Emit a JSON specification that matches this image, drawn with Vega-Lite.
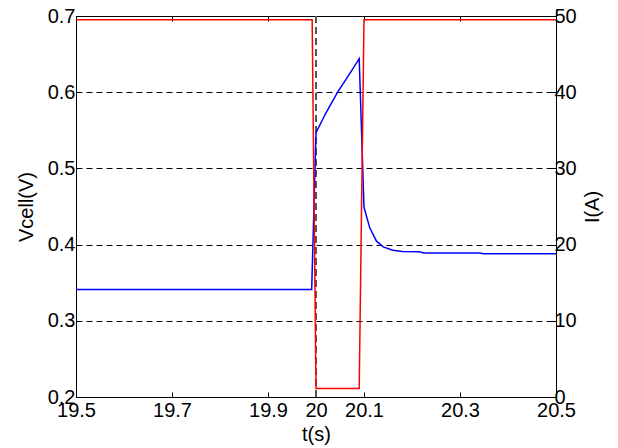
{
  "$schema": "https://vega.github.io/schema/vega-lite/v6.json",
  "width": 480,
  "height": 381,
  "autosize": {"type": "none"},
  "padding": {"left": 76, "top": 16, "right": 62, "bottom": 51},
  "background": "white",
  "config": {
    "view": {"stroke": "black", "strokeWidth": 1},
    "font": "Liberation Sans",
    "axis": {
      "labelFont": "Liberation Sans",
      "titleFont": "Liberation Sans",
      "labelFontSize": 20,
      "titleFontSize": 20,
      "titleFontWeight": "normal",
      "labelColor": "black",
      "titleColor": "black",
      "domainColor": "black",
      "tickColor": "black",
      "labelFlush": false,
      "labelOverlap": false
    }
  },
  "datasets": {
    "voltage": [
      {"t": 19.5, "V": 0.341},
      {"t": 19.991, "V": 0.341},
      {"t": 20.0, "V": 0.547},
      {"t": 20.02, "V": 0.572},
      {"t": 20.045, "V": 0.600},
      {"t": 20.07, "V": 0.624},
      {"t": 20.09, "V": 0.644},
      {"t": 20.1, "V": 0.449},
      {"t": 20.112, "V": 0.422},
      {"t": 20.126, "V": 0.4045},
      {"t": 20.14, "V": 0.397},
      {"t": 20.16, "V": 0.3925},
      {"t": 20.18, "V": 0.391},
      {"t": 20.215, "V": 0.3905},
      {"t": 20.225, "V": 0.389},
      {"t": 20.34, "V": 0.389},
      {"t": 20.35, "V": 0.388},
      {"t": 20.5, "V": 0.388}
    ],
    "current": [
      {"t": 19.5, "I": 49.5},
      {"t": 19.992, "I": 49.5},
      {"t": 20.0, "I": 1.1},
      {"t": 20.09, "I": 1.1},
      {"t": 20.1, "I": 49.5},
      {"t": 20.5, "I": 49.5}
    ],
    "marker": [{"t": 20}]
  },
  "layer": [
    {
      "data": {"name": "marker"},
      "mark": {"type": "rule", "color": "#555555", "strokeWidth": 2, "strokeDash": [7, 4]},
      "encoding": {
        "x": {"field": "t", "type": "quantitative", "scale": {"domain": [19.5, 20.5], "nice": false, "zero": false}, "axis": null}
      }
    },
    {
      "data": {"name": "voltage"},
      "mark": {"type": "line", "color": "#0000ff", "strokeWidth": 1.5},
      "encoding": {
        "x": {
          "field": "t", "type": "quantitative",
          "scale": {"domain": [19.5, 20.5], "nice": false, "zero": false},
          "axis": {
            "orient": "bottom",
            "title": "t(s)",
            "values": [19.5, 19.7, 19.9, 20, 20.1, 20.3, 20.5],
            "format": ".1~f",
            "tickSize": -5,
            "labelPadding": 8,
            "titlePadding": 4,
            "grid": false
          }
        },
        "y": {
          "field": "V", "type": "quantitative",
          "scale": {"domain": [0.2, 0.7], "nice": false, "zero": false},
          "axis": {
            "orient": "left",
            "title": "Vcell(V)",
            "values": [0.2, 0.3, 0.4, 0.5, 0.6, 0.7],
            "format": ".1f",
            "tickSize": -5,
            "labelPadding": 6,
            "titlePadding": 11,
            "grid": true,
            "gridColor": "black",
            "gridDash": [6, 4],
            "gridWidth": 1
          }
        }
      }
    },
    {
      "data": {"name": "current"},
      "mark": {"type": "line", "color": "#ff0000", "strokeWidth": 1.5},
      "encoding": {
        "x": {
          "field": "t", "type": "quantitative",
          "scale": {"domain": [19.5, 20.5], "nice": false, "zero": false},
          "axis": {
            "orient": "top",
            "title": null,
            "labels": false,
            "values": [19.5, 19.7, 19.9, 20, 20.1, 20.3, 20.5],
            "tickSize": -5,
            "grid": false
          }
        },
        "y": {
          "field": "I", "type": "quantitative",
          "scale": {"domain": [0, 50], "nice": false, "zero": false},
          "axis": {
            "orient": "right",
            "title": "I(A)",
            "titleAngle": 270,
            "values": [0, 10, 20, 30, 40, 50],
            "tickSize": -5,
            "labelPadding": 3,
            "titlePadding": 26,
            "grid": false
          }
        }
      }
    }
  ],
  "resolve": {
    "scale": {"y": "independent"},
    "axis": {"x": "independent", "y": "independent"}
  }
}
